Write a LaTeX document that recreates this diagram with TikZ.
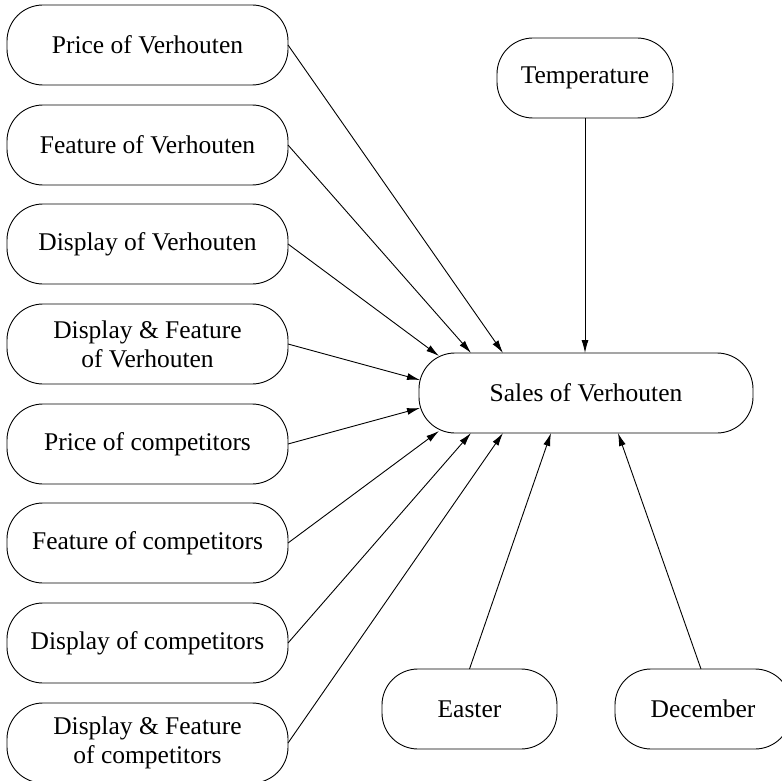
\documentclass[tikz,border=0pt]{standalone}
\usepackage{fontspec}
\setmainfont{Liberation Serif}
\usepackage{tikz}
\usetikzlibrary{arrows.meta}

\begin{document}
\begin{tikzpicture}[
  x=1pt, y=-1pt,
  box/.style={draw, line width=0.9pt, rounded corners=36pt, minimum height=80pt,
    inner sep=0pt, outer sep=0pt, align=center,
    font=\fontsize{25.5}{29}\selectfont},
  lbox/.style={box, minimum width=281pt},
  link/.style={-{Latex[length=13pt,width=7pt]}, line width=0.9pt},
]
  \useasboundingbox (0,0) rectangle (782,781);

  % Drivers on the left
  \node[lbox] (pricev) at (147.5,45)  {Price of Verhouten};
  \node[lbox] (featv)  at (147.5,145) {Feature of Verhouten};
  \node[lbox] (dispv)  at (147.5,244) {Display of Verhouten};
  \node[lbox] (dfv)    at (147.5,344) {Display \& Feature\\of Verhouten};
  \node[lbox] (pricec) at (147.5,444) {Price of competitors};
  \node[lbox] (featc)  at (147.5,543) {Feature of competitors};
  \node[lbox] (dispc)  at (147.5,643) {Display of competitors};
  \node[lbox] (dfc)    at (147.5,743) {Display \& Feature\\of competitors};

  % Other drivers and the target
  \node[box, minimum width=176pt] (temp)   at (585,78)  {Temperature};
  \node[box, minimum width=334pt] (sales)  at (586,393) {Sales of Verhouten};
  \node[box, minimum width=175pt] (easter) at (469.5,709) {Easter};
  \node[box, minimum width=176pt] (dec)    at (703,709) {December};

  % Arrows into sales
  \draw[link] (pricev.east) -- ([xshift=84pt]sales.north west);
  \draw[link] (featv.east)  -- ([xshift=52pt]sales.north west);
  \draw[link] (dispv.east)  -- ([xshift=20pt,yshift=-3pt]sales.north west);
  \draw[link] (dfv.east)    -- ([xshift=1pt,yshift=-27pt]sales.north west);
  \draw[link] (pricec.east) -- ([xshift=1pt,yshift=25pt]sales.south west);
  \draw[link] (featc.east)  -- ([xshift=20pt,yshift=2pt]sales.south west);
  \draw[link] (dispc.east)  -- ([xshift=52pt]sales.south west);
  \draw[link] (dfc.east)    -- ([xshift=84pt]sales.south west);

  \draw[link] (temp.south)  -- (temp.south |- sales.north);
  \draw[link] (easter.north) -- ([xshift=132pt]sales.south west);
  \draw[link] ([xshift=-2pt]dec.north) -- ([xshift=199pt]sales.south west);

\end{tikzpicture}
\end{document}
